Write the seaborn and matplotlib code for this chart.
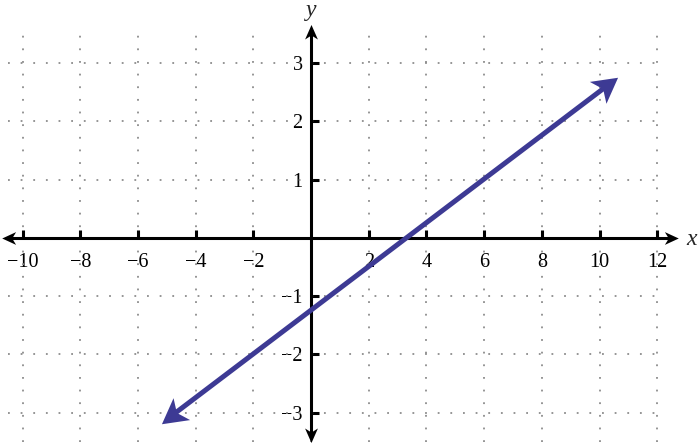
import numpy as np
import pandas as pd
import matplotlib
matplotlib.use('Agg')
import matplotlib.pyplot as plt
import seaborn as sns
from matplotlib.path import Path
from matplotlib.markers import MarkerStyle
from matplotlib.transforms import Affine2D

# values
x_ticks = [-10, -8, -6, -4, -2, 2, 4, 6, 8, 10, 12]
y_ticks = [-3, -2, -1, 1, 2, 3]
x_grid = [-10, -8, -6, -4, -2, 0, 2, 4, 6, 8, 10, 12]
y_grid = [-3, -2, -1, 1, 2, 3]
line_x = [-4.93, 10.37]
line_y = [-3.09, 2.65]

line_col = '#3d3a94'
grid_col = '#8c8c8c'


def head(ax, x, y, ang, length, w, n, a, color):
    # notched arrow head, tip sits a*length beyond (x, y)
    verts = [(a, 0), (a - 1, w), (a - n, 0), (a - 1, -w), (a, 0)]
    codes = [Path.MOVETO, Path.LINETO, Path.LINETO, Path.LINETO, Path.CLOSEPOLY]
    m = MarkerStyle(Path(verts, codes), transform=Affine2D().rotate_deg(ang))
    big = max(abs(v) for xy in verts for v in xy)
    ax.plot([x], [y], marker=m, ms=length * 2 * big, color=color,
            markeredgewidth=0, linestyle='none', zorder=6)


sns.set_style('white')
plt.rcParams['font.family'] = ['Liberation Serif', 'DejaVu Serif']

fig = plt.figure(figsize=(7, 4.43), dpi=100)
ax = fig.add_axes([0, 0, 1, 1])
ax.set_xlim(-10.78, 13.48)
ax.set_ylim(-3.52, 4.08)

# dotted grid
ax.vlines(x_grid, -3.5, 3.52, colors=grid_col, linewidth=1.3,
          linestyles=(0, (1, 6)), zorder=1)
ax.hlines(y_grid, -10.5, 12.1, colors=grid_col, linewidth=1.3,
          linestyles=(0, (1, 6)), zorder=1)

# axes with arrows
ax.plot([-10.54, 12.55], [0, 0], color='black', lw=2.2, solid_capstyle='butt', zorder=3)
ax.plot([0, 0], [-3.41, 3.57], color='black', lw=2.2, solid_capstyle='butt', zorder=3)
head(ax, 12.55, 0, 0, 10, 0.46, 0.72, 0.38, 'black')
head(ax, -10.54, 0, 180, 10, 0.46, 0.72, 0.38, 'black')
head(ax, 0, 3.57, 90, 10.5, 0.44, 0.72, 0.38, 'black')
head(ax, 0, -3.41, 270, 10.5, 0.44, 0.72, 0.38, 'black')

for s in ax.spines.values():
    s.set_visible(False)
ax.spines['left'].set_position(('data', 0))
ax.spines['bottom'].set_position(('data', 0))
ax.set_xticks(x_ticks)
ax.set_yticks(y_ticks)
ax.set_xticklabels(['\u2212' + str(-v) if v < 0 else str(v) for v in x_ticks])
ax.set_yticklabels(['\u2212' + str(-v) if v < 0 else str(v) for v in y_ticks])
ax.tick_params(axis='x', direction='in', length=6, width=2.2, pad=11,
               labelsize=14.5, colors='black', bottom=True,
               labelfontfamily='Liberation Serif')
ax.tick_params(axis='y', direction='in', length=6, width=2.2, pad=6,
               labelsize=14.5, colors='black', left=True,
               labelfontfamily='Liberation Serif')

# the line
df = pd.DataFrame({'x': line_x, 'y': line_y})
sns.lineplot(data=df, x='x', y='y', color=line_col, linewidth=3.6, ax=ax, zorder=4)
p0 = ax.transData.transform((df.x[0], df.y[0]))
p1 = ax.transData.transform((df.x[1], df.y[1]))
ang = np.degrees(np.arctan2(p1[1] - p0[1], p1[0] - p0[0]))
head(ax, df.x[1], df.y[1], ang, 18, 0.55, 0.75, 0.38, line_col)
head(ax, df.x[0], df.y[0], ang + 180, 18, 0.55, 0.75, 0.38, line_col)
ax.set_xlabel('')
ax.set_ylabel('')

ax.text(13.2, -0.03, 'x', fontsize=17, style='italic', ha='center', va='center')
ax.text(0, 3.9, 'y', fontsize=17, style='italic', ha='center', va='center')

fig.savefig('out.png', dpi=100)
